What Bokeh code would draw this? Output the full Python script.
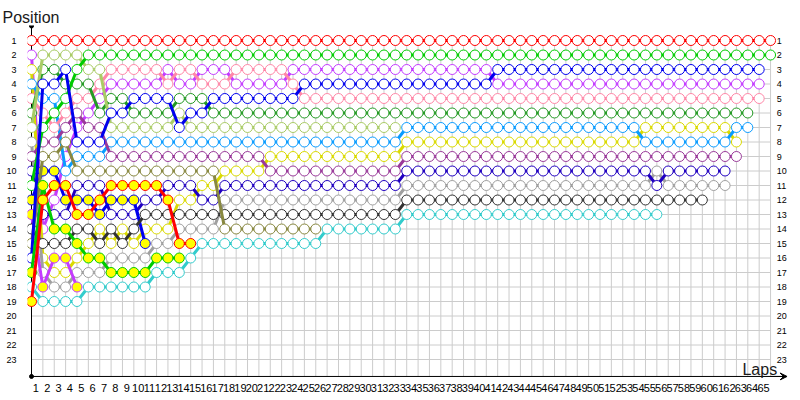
from bokeh.plotting import figure
from bokeh.models import Range1d, LinearAxis, FixedTicker, Label, Arrow, VeeHead, Title
from bokeh.embed import file_html
from bokeh.resources import INLINE
from bokeh.core.properties import value

# ---------------- data ----------------
lap_ticks = [1, 2, 3, 4, 5, 6, 7, 8, 9, 10, 11, 12, 13, 14, 15, 16, 17, 18, 19, 20,
             21, 22, 23, 24, 25, 26, 27, 28, 29, 30, 31, 32, 33, 34, 35, 36, 37, 38, 39, 40,
             41, 42, 43, 44, 45, 46, 47, 48, 49, 50, 51, 52, 53, 54, 55, 56, 57, 58, 59, 60,
             61, 62, 63, 64, 65]
position_ticks = [1, 2, 3, 4, 5, 6, 7, 8, 9, 10, 11, 12, 13, 14, 15, 16, 17, 18, 19, 20, 21, 22, 23]

# position of each driver at the end of each lap (index 0 = grid)
pos_red = [1, 1, 1, 1, 1, 1, 1, 1, 1, 1, 1,
           1, 1, 1, 1, 1, 1, 1, 1, 1, 1, 1,
           1, 1, 1, 1, 1, 1, 1, 1, 1, 1, 1,
           1, 1, 1, 1, 1, 1, 1, 1, 1, 1, 1,
           1, 1, 1, 1, 1, 1, 1, 1, 1, 1, 1,
           1, 1, 1, 1, 1, 1, 1, 1, 1, 1, 1]
pos_magenta = [2, 14, 12, 9, 7, 6, 5, 4, 4, 4, 4,
               4, 3, 4, 4, 3, 3, 3, 4, 4, 4, 4,
               4, 3, 3, 3, 3, 3, 3, 3, 3, 3, 3,
               3, 3, 3, 3, 3, 3, 3, 3, 4, 4, 4,
               4, 4, 4, 4, 4, 4, 4, 4, 4, 4, 4,
               4, 4, 4, 4, 4, 4, 4, 4, 4, 4]
pos_yellow = [3, 16, 17, 17, 16, 15, 14, 15, 14, 15, 14,
              14, 14, 12, 12, 11, 11, 10, 10, 10, 10, 9,
              9, 9, 9, 9, 9, 9, 9, 9, 9, 9, 9,
              8, 8, 8, 8, 8, 8, 8, 8, 8, 8, 8,
              8, 8, 8, 8, 8, 8, 8, 8, 8, 8, 7,
              7, 7, 7, 7, 7, 7, 7, 8]
pos_lightblue = [4, 5, 5, 10, 9, 9, 9, 8, 8, 8, 8,
                 8, 8, 8, 8, 8, 8, 8, 8, 8, 8, 8,
                 8, 8, 8, 8, 8, 8, 8, 8, 8, 8, 8,
                 7, 7, 7, 7, 7, 7, 7, 7, 7, 7, 7,
                 7, 7, 7, 7, 7, 7, 7, 7, 7, 7, 8,
                 8, 8, 8, 8, 8, 8, 8, 7, 7]
pos_pink = [5, 6, 7, 6, 5, 5, 4, 3, 3, 3, 3,
            3, 4, 3, 3, 4, 4, 4, 3, 3, 3, 3,
            3, 4, 5, 5, 5, 5, 5, 5, 5, 5, 5,
            5, 5, 5, 5, 5, 5, 5, 5, 5, 5, 5,
            5, 5, 5, 5, 5, 5, 5, 5, 5, 5, 5,
            5, 5, 5, 5, 5, 5, 5, 5, 5, 5]
pos_darkgreen = [6, 3, 3, 4, 4, 4, 6, 5, 5, 6, 6,
                 6, 6, 5, 5, 5, 6, 6, 6, 6, 6, 6,
                 6, 6, 6, 6, 6, 6, 6, 6, 6, 6, 6,
                 6, 6, 6, 6, 6, 6, 6, 6, 6, 6, 6,
                 6, 6, 6, 6, 6, 6, 6, 6, 6, 6, 6,
                 6, 6, 6, 6, 6, 6, 6, 6, 6]
pos_lightgreen = [7, 2, 2, 2, 2, 3, 3, 7, 7, 7, 7,
                  7, 7, 6, 7, 7, 7, 7, 7, 7, 7, 7,
                  7, 7, 7, 7, 7, 7, 7, 7, 7, 7, 7]
pos_grey = [8, 17, 18, 18, 17, 17, 17, 16, 16, 16, 16,
            15, 15, 14, 14, 14, 14, 12, 12, 12, 12, 12,
            12, 12, 12, 12, 12, 12, 12, 12, 12, 12, 12,
            11, 11, 11, 11, 11, 11, 11, 11, 11, 11, 11,
            11, 11, 11, 11, 11, 11, 11, 11, 11, 11, 11,
            10, 11, 11, 11, 11, 11, 11]
pos_darkpurple = [9, 8, 8, 7, 6, 7, 7, 9, 9, 9, 9,
                  9, 9, 9, 9, 9, 9, 9, 9, 9, 9, 10,
                  10, 10, 10, 10, 10, 10, 10, 10, 10, 10, 10,
                  9, 9, 9, 9, 9, 9, 9, 9, 9, 9, 9,
                  9, 9, 9, 9, 9, 9, 9, 9, 9, 9, 9,
                  9, 9, 9, 9, 9, 9, 9, 9]
pos_navy = [10, 13, 13, 13, 11, 11, 11, 13, 13, 13, 12,
            12, 11, 11, 11, 12, 12, 11, 11, 11, 11, 11,
            11, 11, 11, 11, 11, 11, 11, 11, 11, 11, 11,
            10, 10, 10, 10, 10, 10, 10, 10, 10, 10, 10,
            10, 10, 10, 10, 10, 10, 10, 10, 10, 10, 10,
            11, 10, 10, 10, 10, 10, 10]
pos_green = [11, 7, 6, 5, 3, 2, 2, 2, 2, 2, 2,
             2, 2, 2, 2, 2, 2, 2, 2, 2, 2, 2,
             2, 2, 2, 2, 2, 2, 2, 2, 2, 2, 2,
             2, 2, 2, 2, 2, 2, 2, 2, 2, 2, 2,
             2, 2, 2, 2, 2, 2, 2, 2, 2, 2, 2,
             2, 2, 2, 2, 2, 2, 2, 2, 2, 2, 2]
pos_blue_b = [12, 10, 10, 12, 12, 12, 13, 12, 12, 12, 15]
pos_magenta_b = [13, 18, 16, 16, 18]
pos_black = [14, 15, 15, 15, 14, 14, 15, 14, 15, 14, 13,
             13, 13, 13, 13, 13, 13, 13, 13, 13, 13, 13,
             13, 13, 13, 13, 13, 13, 13, 13, 13, 13, 13,
             12, 12, 12, 12, 12, 12, 12, 12, 12, 12, 12,
             12, 12, 12, 12, 12, 12, 12, 12, 12, 12, 12,
             12, 12, 12, 12, 12]
pos_olive = [15, 9, 9, 8, 10, 10, 10, 10, 10, 10, 10,
             10, 10, 10, 10, 10, 10, 14, 14, 14, 14, 14,
             14, 14, 14, 14]
pos_blue = [16, 4, 4, 3, 8, 8, 8, 6, 6, 5, 5,
            5, 5, 7, 6, 6, 5, 5, 5, 5, 5, 5,
            5, 5, 4, 4, 4, 4, 4, 4, 4, 4, 4,
            4, 4, 4, 4, 4, 4, 4, 4, 3, 3, 3,
            3, 3, 3, 3, 3, 3, 3, 3, 3, 3, 3,
            3, 3, 3, 3, 3, 3, 3, 3, 3, 3]
pos_green_b = [17, 11, 14, 14, 15, 16, 16, 17, 17, 17, 17, 16, 16, 16]
pos_cyan = [18, 19, 19, 19, 19, 18, 18, 18, 18, 18, 18,
            17, 17, 17, 16, 15, 15, 15, 15, 15, 15, 15,
            15, 15, 15, 15, 14, 14, 14, 14, 14, 14, 14,
            13, 13, 13, 13, 13, 13, 13, 13, 13, 13, 13,
            13, 13, 13, 13, 13, 13, 13, 13, 13, 13, 13,
            13]
pos_red_b = [19, 12, 11, 11, 13, 13, 12, 11, 11, 11, 11, 11, 12, 15, 15]

drivers = [
    (pos_red, "#ff0000", "white"),
    (pos_magenta, "#c43cff", "white"),
    (pos_yellow, "#dada00", "white"),
    (pos_lightblue, "#0a9cff", "white"),
    (pos_pink, "#ff88a8", "white"),
    (pos_darkgreen, "#249a24", "white"),
    (pos_lightgreen, "#aacc66", "white"),
    (pos_grey, "#a0a0a0", "white"),
    (pos_darkpurple, "#9a3a9a", "white"),
    (pos_navy, "#2000c0", "white"),
    (pos_green, "#00cc00", "white"),
    (pos_blue_b, "#0000ee", "#ffff00"),
    (pos_magenta_b, "#c43cff", "#ffff00"),
    (pos_black, "#333333", "white"),
    (pos_olive, "#888840", "white"),
    (pos_blue, "#0000ee", "white"),
    (pos_green_b, "#00cc00", "#ffff00"),
    (pos_cyan, "#33cccc", "white"),
    (pos_red_b, "#ff0000", "#ffff00"),
]

# ---------------- figure ----------------
FONT = "Liberation Sans"
LAP_PX = 11.37
POS_PX = 14.5
# frame spans page x 27..800 and page y 25..380 (lap 0 at x=31, position 1 at y=40)
x_lo, x_hi = -4 / LAP_PX, 769 / LAP_PX
y_top, y_bot = 1 - 15 / POS_PX, 1 + 340 / POS_PX
AXIS_Y = 24.17

p = figure(width=800, height=400, output_backend="svg", toolbar_location=None,
           x_range=Range1d(x_lo, x_hi), y_range=Range1d(y_bot, y_top),
           x_axis_type=None, y_axis_type=None,
           min_border_left=27, min_border_right=0, min_border_top=25, min_border_bottom=20,
           outline_line_color=None, background_fill_color="white", border_fill_color="white")
p.grid.visible = False
p.extra_x_ranges = {"lab": Range1d(x_lo + 0.62, x_hi + 0.62)}

p.title = Title(text="Position", align="left", offset=-25, standoff=0,
                text_font=FONT, text_font_size="16px", text_font_style="normal",
                text_color="#1a1a1a")

# grid lattice
gx0, gy0, gx1, gy1 = [], [], [], []
for lap in range(1, 66):
    gx0.append(lap); gy0.append(1); gx1.append(lap); gy1.append(AXIS_Y)
for pos in position_ticks:
    gx0.append(0); gy0.append(pos); gx1.append(65); gy1.append(pos)
p.segment(x0=gx0, y0=gy0, x1=gx1, y1=gy1, line_color="#cccccc", line_width=1)

# axis lines
p.segment(x0=[0, 0], y0=[0.0, AXIS_Y], x1=[0, 66.2], y1=[AXIS_Y, AXIS_Y],
          line_color="black", line_width=1)
p.scatter([0, 0], [0.0, AXIS_Y], marker="circle", size=4, color="black")
p.add_layout(Arrow(end=VeeHead(size=7, line_color="black", fill_color="black", line_width=1),
                   x_start=65.0, y_start=AXIS_Y, x_end=66.45, y_end=AXIS_Y,
                   line_color="black", line_width=1))

for pos, col, fill in drivers:
    laps = list(range(len(pos)))
    p.line(laps, pos, line_color=col, line_width=3)
    p.scatter(laps, pos, marker="circle", size=10, fill_color=fill,
              line_color=col, line_width=1)

# right-hand position labels
p.text(x=[65.55] * len(position_ticks), y=position_ticks,
       text=[str(v) for v in position_ticks], text_font=value(FONT),
       text_font_size="9px", text_color="black", text_align="left",
       text_baseline="middle")

p.add_layout(Label(x=62.53, y=23.66, text="Laps", text_font=FONT,
                   text_font_size="16px", text_color="#1a1a1a",
                   text_baseline="alphabetic", text_align="left"))

# axes (labels only)
xaxis = LinearAxis(x_range_name="lab", ticker=FixedTicker(ticks=lap_ticks),
                   axis_line_color=None,
                   major_tick_line_color=None, minor_tick_line_color=None,
                   major_tick_out=0, major_tick_in=0, minor_tick_out=0, minor_tick_in=0,
                   major_label_standoff=3, major_label_text_font=FONT,
                   major_label_text_font_size="11px", major_label_text_color="black")
p.add_layout(xaxis, "below")

yaxis = LinearAxis(ticker=FixedTicker(ticks=position_ticks),
                   axis_line_color=None,
                   major_tick_line_color=None, minor_tick_line_color=None,
                   major_tick_out=0, major_tick_in=0, minor_tick_out=0, minor_tick_in=0,
                   major_label_standoff=11, major_label_text_font=FONT,
                   major_label_text_font_size="9px", major_label_text_color="black")
p.add_layout(yaxis, "left")

open("out.html", "w").write(file_html(p, INLINE))
